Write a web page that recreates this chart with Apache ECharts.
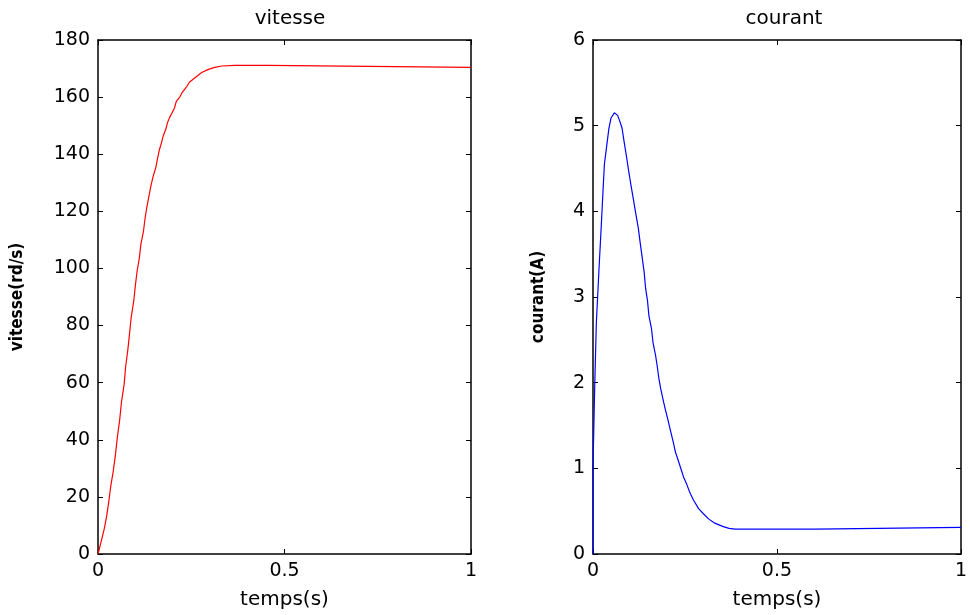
<!DOCTYPE html>
<html>
<head>
<meta charset="utf-8">
<script src="https://cdn.jsdelivr.net/npm/echarts@6/dist/echarts.min.js"></script>
<style>
  html, body { margin: 0; padding: 0; background: #fff; }
  #chart { width: 970px; height: 615px; }
</style>
</head>
<body>
<div id="chart"></div>
<script>
// vitesse (rd/s) en fonction du temps
var vitT = [0, 0.0098, 0.017, 0.023, 0.029, 0.034, 0.041, 0.047, 0.052, 0.058, 0.063, 0.070, 0.074, 0.080, 0.085, 0.089, 0.096, 0.100, 0.105, 0.111, 0.115, 0.122, 0.126, 0.131, 0.137, 0.142, 0.148, 0.155, 0.160, 0.164, 0.170, 0.175, 0.182, 0.186, 0.192, 0.199, 0.205, 0.210, 0.220, 0.226, 0.238, 0.245, 0.260, 0.278, 0.296, 0.313, 0.332, 0.367, 0.456, 0.460, 1];
var vitV = [0, 5, 9, 13.1, 18.4, 23.6, 29.1, 35, 41, 46.8, 53.3, 59.3, 65.5, 71.5, 77.7, 82.9, 88.7, 93.9, 99.2, 103.8, 108.5, 113.1, 117.4, 121.5, 125.6, 129, 132.3, 135.4, 138.7, 141.3, 143.9, 146.5, 148.8, 150.9, 152.9, 154.6, 156.2, 158.5, 160.2, 161.7, 163.7, 165.2, 166.8, 168.6, 169.7, 170.4, 170.9, 171.1, 171.1, 170.4, 170.4];

// courant (A) en fonction du temps
var couT = [0, 0, 0.0045, 0.009, 0.016, 0.022, 0.027, 0.031, 0.038, 0.043, 0.049, 0.058, 0.067, 0.073, 0.079, 0.085, 0.091, 0.097, 0.103, 0.109, 0.116, 0.123, 0.128, 0.134, 0.139, 0.143, 0.148, 0.152, 0.159, 0.163, 0.170, 0.175, 0.179, 0.184, 0.191, 0.197, 0.204, 0.210, 0.218, 0.224, 0.231, 0.240, 0.246, 0.255, 0.264, 0.273, 0.287, 0.300, 0.314, 0.331, 0.354, 0.370, 0.386, 0.606, 0.610, 1];
var couV = [0, 1.02, 1.93, 2.69, 3.3, 3.79, 4.22, 4.55, 4.79, 4.96, 5.09, 5.15, 5.12, 5.05, 4.97, 4.80, 4.64, 4.47, 4.31, 4.16, 3.98, 3.81, 3.64, 3.45, 3.29, 3.10, 2.96, 2.78, 2.63, 2.47, 2.32, 2.18, 2.05, 1.93, 1.79, 1.68, 1.56, 1.45, 1.31, 1.19, 1.10, 0.98, 0.90, 0.81, 0.71, 0.63, 0.53, 0.47, 0.41, 0.36, 0.32, 0.30, 0.29, 0.29, 0.31, 0.31];

var xTicks = [0, 0.5, 1];

function pairs(t, v) {
  return t.map(function (x, i) { return [x, v[i]]; });
}

var font = 'DejaVu Sans';
var lineStyle = { color: '#000', width: 1.5 };

function xAx(grid, pos, name) {
  return {
    type: 'value', gridIndex: grid, position: pos,
    min: 0, max: 1, interval: 0.5,
    name: name, nameLocation: 'middle', nameGap: 36,
    nameTextStyle: { fontFamily: font, fontSize: 20, color: '#000' },
    axisLine: { show: true, onZero: false, lineStyle: lineStyle },
    axisTick: { show: true, inside: true, length: 5, lineStyle: { color: '#000' } },
    axisLabel: { show: pos === 'bottom', margin: 8, fontFamily: font, fontSize: 19, color: '#000',
      formatter: function (v) { return xTicks.indexOf(v) >= 0 ? String(v) : ''; } },
    splitLine: { show: false }
  };
}

function yAx(grid, pos, max, step, name, gap) {
  return {
    type: 'value', gridIndex: grid, position: pos,
    min: 0, max: max, interval: step,
    name: name, nameLocation: 'middle', nameGap: gap, nameRotate: 90,
    nameTextStyle: { fontFamily: 'DejaVu Sans Condensed', fontSize: 17, fontWeight: 'bold', color: '#000' },
    axisLine: { show: true, onZero: false, lineStyle: lineStyle },
    axisTick: { show: true, inside: true, length: 5, lineStyle: { color: '#000' } },
    axisLabel: { show: pos === 'left', margin: 8, fontFamily: font, fontSize: 19, color: '#000' },
    splitLine: { show: false }
  };
}

var chart = echarts.init(document.getElementById('chart'));
chart.setOption({
  backgroundColor: '#fff',
  animation: false,
  title: [
    { text: 'vitesse', left: 285, top: 4, textAlign: 'center',
      textStyle: { fontFamily: font, fontSize: 20, fontWeight: 'normal', color: '#000' } },
    { text: 'courant', left: 779, top: 4, textAlign: 'center',
      textStyle: { fontFamily: font, fontSize: 20, fontWeight: 'normal', color: '#000' } }
  ],
  grid: [
    { left: 98, right: 499, top: 40, bottom: 59 },
    { left: 593, right: 5, top: 40, bottom: 59 }
  ],
  xAxis: [
    xAx(0, 'bottom', 'temps(s)'),
    xAx(1, 'bottom', 'temps(s)'),
    xAx(0, 'top', ''),
    xAx(1, 'top', '')
  ],
  yAxis: [
    yAx(0, 'left', 180, 20, 'vitesse(rd/s)', 72),
    yAx(1, 'left', 6, 1, 'courant(A)', 46),
    yAx(0, 'right', 180, 20, '', 0),
    yAx(1, 'right', 6, 1, '', 0)
  ],
  series: [
    {
      name: 'vitesse', type: 'line', xAxisIndex: 0, yAxisIndex: 0,
      data: pairs(vitT, vitV), showSymbol: false,
      lineStyle: { color: '#ff0000', width: 1.2 }
    },
    {
      name: 'courant', type: 'line', xAxisIndex: 1, yAxisIndex: 1,
      data: pairs(couT, couV), showSymbol: false,
      lineStyle: { color: '#0000ff', width: 1.2 }
    }
  ]
});
</script>
</body>
</html>
